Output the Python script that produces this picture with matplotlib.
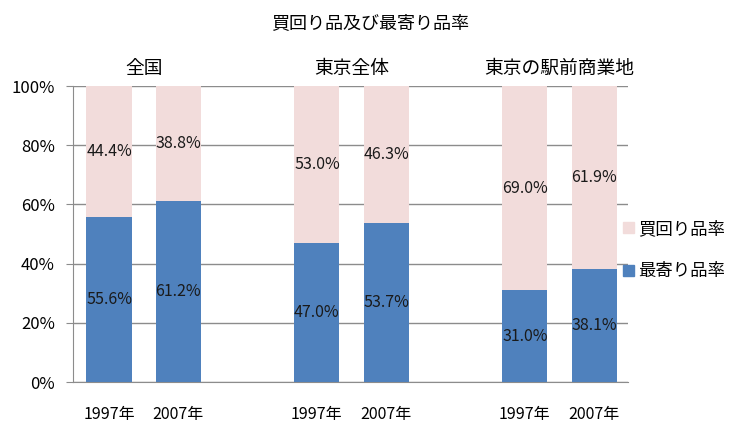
import matplotlib
matplotlib.use("Agg")
import matplotlib.pyplot as plt
from matplotlib.patches import Patch
import numpy as np

plt.rcParams['font.family'] = ['Noto Sans CJK JP', 'DejaVu Sans']

# data
groups = ["全国", "東京全体", "東京の駅前商業地"]
years = ["1997年", "2007年"] * 3
mogori = [55.6, 61.2, 47.0, 53.7, 31.0, 38.1]   # 最寄り品率
kaimawari = [44.4, 38.8, 53.0, 46.3, 69.0, 61.9]  # 買回り品率

blue = "#4F81BD"
pink = "#F2DCDB"
grid_c = "#8C8C8C"

fig = plt.figure(figsize=(7.41, 4.24), dpi=100)
ax = fig.add_axes([0.0985, 0.099, 0.749, 0.698])

x = np.array([0, 1, 3, 4, 6, 7])
w = 0.65
ax.bar(x, mogori, w, color=blue, zorder=3)
ax.bar(x, kaimawari, w, bottom=mogori, color=pink, zorder=3)

for xi, m, k in zip(x, mogori, kaimawari):
    ax.text(xi, m / 2, f"{m:.1f}%", ha="center", va="center", fontsize=11.5, color="#1a1a1a", zorder=4)
    ax.text(xi, m + k / 2, f"{k:.1f}%", ha="center", va="center", fontsize=11.5, color="#1a1a1a", zorder=4)

ax.set_xlim(-0.52, 7.49)
ax.set_ylim(0, 100)
ax.set_yticks(np.arange(0, 101, 20))
ax.set_yticklabels([f"{v}%" for v in range(0, 101, 20)], fontsize=12)
ax.set_xticks(x)
ax.set_xticklabels(years, fontsize=11.5)
ax.tick_params(axis="x", length=0, pad=17)
ax.tick_params(axis="y", length=5, color=grid_c, pad=8)
ax.yaxis.grid(True, color=grid_c, linewidth=1, zorder=0)
for s in ["top", "right"]:
    ax.spines[s].set_visible(False)
for s in ["left", "bottom"]:
    ax.spines[s].set_color(grid_c)

# group labels
for i, g in enumerate(groups):
    cx = (x[2 * i] + x[2 * i + 1]) / 2
    ax.text(cx, 106, g, ha="center", va="center", fontsize=13.5, clip_on=False)

fig.text(0.5, 0.946, "買回り品及び最寄り品率", ha="center", va="center", fontsize=13)

handles = [Patch(color=pink), Patch(color=blue)]
fig.legend(handles, ["買回り品率", "最寄り品率"], loc="center left",
           bbox_to_anchor=(0.82, 0.41), frameon=False, fontsize=12.5,
           handlelength=0.6, handleheight=0.6, handletextpad=0.25, labelspacing=1.4)

fig.savefig("out.png", dpi=100)
